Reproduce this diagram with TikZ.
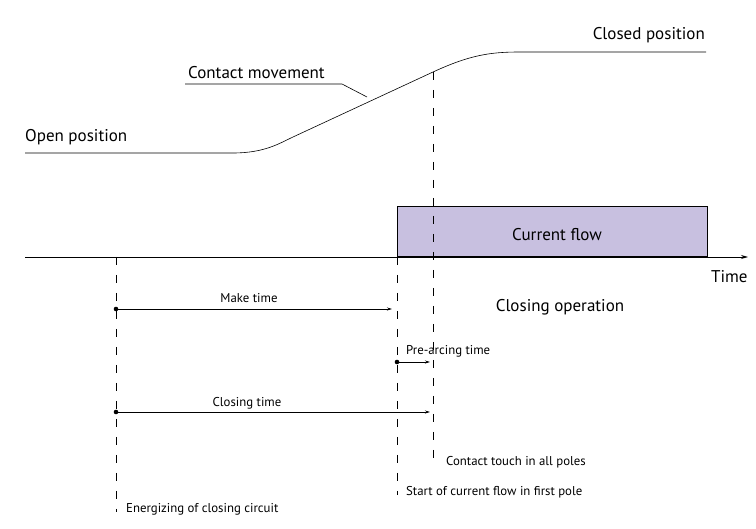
\documentclass[tikz,border=0pt]{standalone}
\usepackage{fontspec}
\setmainfont{PT Sans}
\usetikzlibrary{arrows.meta}
\definecolor{flowfill}{RGB}{200,192,224}
\begin{document}
\begin{tikzpicture}[x=1pt,y=-1pt,
  bigtxt/.style={inner sep=0pt,font=\fontsize{17}{19}\selectfont},
  smalltxt/.style={inner sep=0pt,font=\fontsize{12.8}{14}\selectfont},
  guide/.style={line width=0.7pt,dash pattern=on 8pt off 10pt},
  timearrow/.style={line width=0.8pt,-{Stealth[length=5pt,width=3pt]}},
  dotstart/.style={fill,circle,inner sep=0pt,minimum size=4.6pt},
  curveline/.style={line width=0.6pt}]
\useasboundingbox (0,0) rectangle (756,529);
% coordinates
\coordinate (axisL) at (25,257);
\coordinate (axisR) at (748,257);
\coordinate (gA) at (116,257);
\coordinate (gAend) at (116,512);
\coordinate (gB) at (397,257);
\coordinate (gBend) at (397,495);
\coordinate (gC) at (433,72);
\coordinate (gCend) at (433,465);
\coordinate (mkS) at (116,309);
\coordinate (mkE) at (392,309);
\coordinate (paS) at (397,362);
\coordinate (paE) at (430,362);
\coordinate (clS) at (116,412);
\coordinate (clE) at (430,412);
\coordinate (cmU1) at (185,84);
\coordinate (cmU2) at (342,84);
\coordinate (cmTip) at (367,97);
% contact movement curve
\draw[curveline] (25,153) -- (233,153) .. controls (265,153) and (280,143) .. (293,137)
  -- (gC) .. controls (470,55) and (490,52) .. (520,52) -- (706,52);
% current flow box
\node[draw=black,line width=0.7pt,fill=flowfill,minimum width=310pt,minimum height=50pt,anchor=south west,inner sep=0pt] (flow) at (397,257) {};
\node[bigtxt] (flowtxt) at (557,235) {Current flow};
% axis
\draw[line width=0.9pt,-{Stealth[length=7pt,width=4pt]}] (axisL) -- (axisR);
% guides
\draw[guide] (gA) -- (gAend);
\draw[guide] (gB) -- (gBend);
\draw[guide] (gC) -- (gCend);
% time arrows
\node[dotstart] (mkdot) at (mkS) {};
\draw[timearrow] (mkS) -- (mkE);
\node[dotstart] (padot) at (paS) {};
\draw[timearrow] (paS) -- (paE);
\node[dotstart] (cldot) at (clS) {};
\draw[timearrow] (clS) -- (clE);
% leader
\draw[line width=0.6pt] (cmU1) -- (cmU2) -- (cmTip);
% labels
\node[bigtxt,anchor=west] (open) at (25,137) {Open position};
\node[bigtxt,anchor=east] (closed) at (705,35) {Closed position};
\node[bigtxt,anchor=west] (cm) at (188,73) {Contact movement};
\node[bigtxt,anchor=west] (time) at (711,277) {Time};
\node[bigtxt] (closop) at (560,307) {Closing operation};
\node[smalltxt] (mk) at (249,298) {Make time};
\node[smalltxt,anchor=west] (pa) at (406,351) {Pre-arcing time};
\node[smalltxt] (cl) at (247,403) {Closing time};
\node[smalltxt,anchor=west] (ct) at (446,462) {Contact touch in all poles};
\node[smalltxt,anchor=west] (sc) at (406,492) {Start of current flow in first pole};
\node[smalltxt,anchor=west] (en) at (126,509) {Energizing of closing circuit};
\end{tikzpicture}
\end{document}
